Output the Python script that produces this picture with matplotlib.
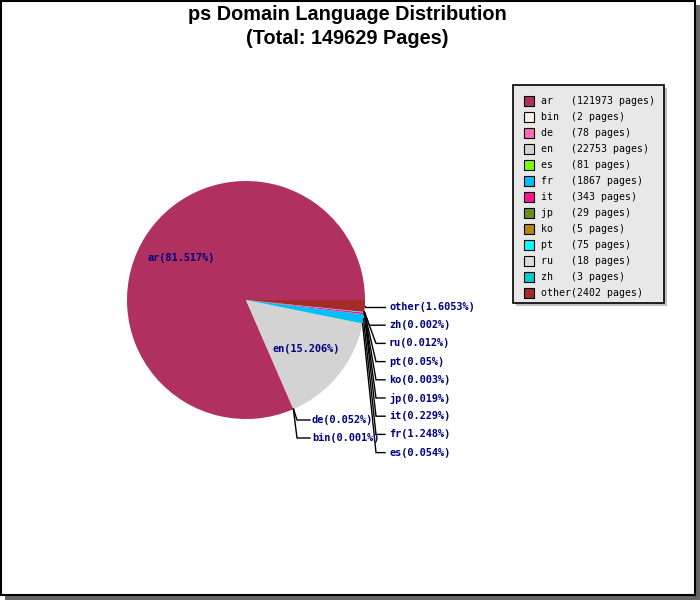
import numpy as np
import matplotlib
matplotlib.use("Agg")
import matplotlib.pyplot as plt
from matplotlib.patches import Rectangle

# ---- data ----
languages = ["ar", "bin", "de", "en", "es", "fr", "it", "jp", "ko", "pt", "ru", "zh", "other"]
pages = [121973, 2, 78, 22753, 81, 1867, 343, 29, 5, 75, 18, 3, 2402]
pct_labels = ["81.517%", "0.001%", "0.052%", "15.206%", "0.054%", "1.248%", "0.229%",
              "0.019%", "0.003%", "0.05%", "0.012%", "0.002%", "1.6053%"]
colors = ["#b03060", "#faf0e6", "#ff69b4", "#d3d3d3", "#7cfc00", "#00bfff", "#ff1493",
          "#6b8e23", "#b8860b", "#00ffff", "#dcdcdc", "#00ced1", "#a52a2a"]
total = 149629
title_lines = ["ps Domain Language Distribution", "(Total: %d Pages)" % total]

W, H = 700, 600
fig = plt.figure(figsize=(7, 6), dpi=100)
ax = fig.add_axes([0, 0, 1, 1])
ax.set_xlim(0, W)
ax.set_ylim(0, H)
ax.axis("off")

def Y(py):
    return H - py

# frame + shadow
ax.add_patch(Rectangle((5, Y(600)), 695, 600 - 5, facecolor="#666666", edgecolor="none", zorder=0))
ax.add_patch(Rectangle((0.5, Y(594.5)), 694, 594, facecolor="white", edgecolor="black", lw=1.5, zorder=1))

# title
ax.text(347, Y(15), title_lines[0], ha="center", va="center", fontsize=14.3,
        fontweight="bold", family="Liberation Sans", zorder=5)
ax.text(347, Y(39), title_lines[1], ha="center", va="center", fontsize=14.3,
        fontweight="bold", family="Liberation Sans", zorder=5)

# pie
cx, cy, R = 246, Y(300), 119
wedges, _ = ax.pie(pages, colors=colors, startangle=0, counterclock=True,
                   center=(cx, cy), radius=R, frame=True,
                   wedgeprops=dict(linewidth=0, zorder=3))
ax.set_xlim(0, W)
ax.set_ylim(0, H)
ax.axis("off")

lab_font = dict(family="DejaVu Sans Mono", fontsize=7.4, fontweight="bold", color="#000080", zorder=6)

inner = {"ar", "en"}
right_order = ["other", "zh", "ru", "pt", "ko", "jp", "it", "fr", "es"]
right_y = {n: 307 + i * 18.2 for i, n in enumerate(right_order)}
left_y = {"de": 420, "bin": 438}

for w, name, pl in zip(wedges, languages, pct_labels):
    mid = np.deg2rad((w.theta1 + w.theta2) / 2)
    text = "%s(%s)" % (name, pl)
    if name in inner:
        x = cx + 0.65 * R * np.cos(mid)
        y = cy + 0.65 * R * np.sin(mid)
        ax.text(x, y, text, ha="center", va="center", **lab_font)
        continue
    ax0 = cx + R * np.cos(mid)
    ay0 = cy + R * np.sin(mid)
    if name in right_y:
        ly = Y(right_y[name])
        ex = 364 + 12 * min(1.0, abs(ay0 - ly) / 30.0) if name != "other" else ax0
        ax.plot([ax0, ex, 385], [ay0, ly, ly], color="black", lw=1, zorder=4,
                solid_joinstyle="miter")
        ax.text(389, ly, text, ha="left", va="center", **lab_font)
    else:
        ly = Y(left_y[name])
        ax.plot([ax0, 297, 310], [ay0, ly, ly], color="black", lw=1, zorder=4)
        ax.text(312, ly, text, ha="left", va="center", **lab_font)

# legend box
lx0, ly0, lx1, ly1 = 513, 85, 664, 303
ax.add_patch(Rectangle((lx0 + 3, Y(ly1 + 3)), lx1 - lx0, ly1 - ly0, facecolor="#c0c0c0",
                       edgecolor="none", zorder=6))
ax.add_patch(Rectangle((lx0, Y(ly1)), lx1 - lx0, ly1 - ly0, facecolor="#e8e8e8",
                       edgecolor="black", lw=1.2, zorder=7))
for i, (name, n, c) in enumerate(zip(languages, pages, colors)):
    ry = 101 + i * 16
    ax.add_patch(Rectangle((524, Y(ry + 5)), 10, 10, facecolor=c, edgecolor="black",
                           lw=0.8, zorder=8))
    ax.text(541, Y(ry), "%-5s(%d pages)" % (name, n), ha="left", va="center",
            family="DejaVu Sans Mono", fontsize=7.1, color="black", zorder=8)

fig.savefig("out.png", dpi=100)
